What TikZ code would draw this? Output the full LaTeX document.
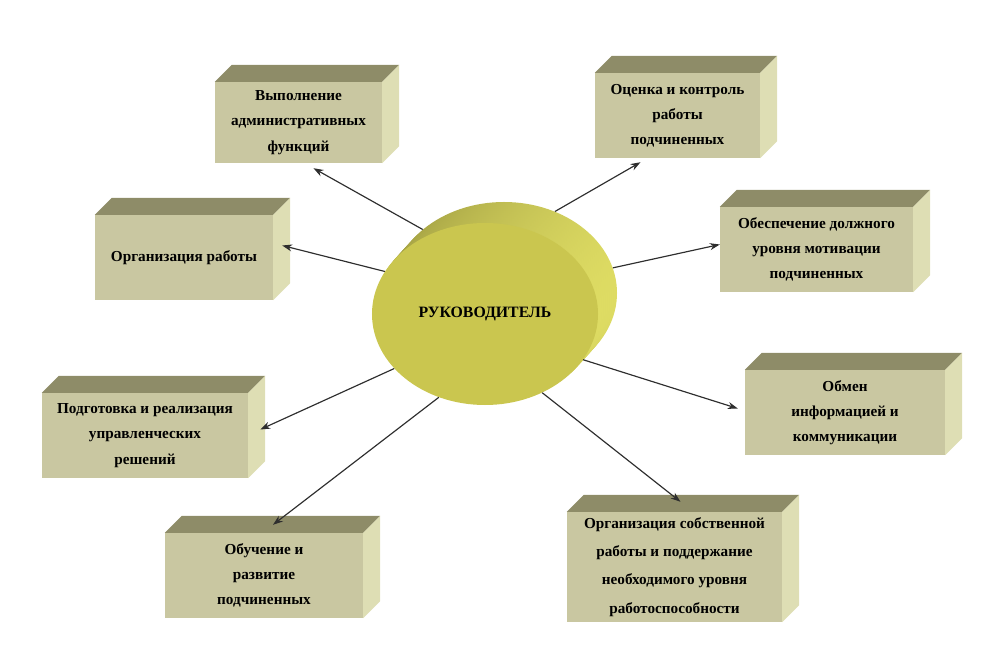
\documentclass[tikz,border=0pt]{standalone}
\usepackage{fontspec}
\setmainfont{Liberation Serif}
\usepackage{xcolor}
\usepackage{tikz}
\usetikzlibrary{arrows.meta,positioning,shapes.geometric,calc}
\definecolor{boxfront}{HTML}{C9C7A1}
\definecolor{boxtop}{HTML}{8E8C68}
\definecolor{boxside}{HTML}{DEDEB4}
\definecolor{diskfront}{HTML}{CAC64F}
\definecolor{rimdark}{HTML}{A29F42}
\definecolor{rimlight}{HTML}{DEDC63}
\definecolor{arrowgray}{HTML}{2E2E2E}

% top and right faces of a block
\newcommand\blockfaces[1]{%
  \fill[boxtop] (#1.north west) -- ++(17,-17) -- ($(#1.north east)+(17,-17)$) -- (#1.north east) -- cycle;
  \fill[boxside] (#1.north east) -- ++(17,-17) -- ($(#1.south east)+(17,-17)$) -- (#1.south east) -- cycle;}

\begin{document}
\begin{tikzpicture}[x=0.03cm,y=-0.03cm,
    block/.style={rectangle,fill=boxfront,align=center,inner sep=0pt,
      font=\fontsize{13}{21.5}\selectfont\bfseries},
    link/.style={-{Stealth[length=8.5pt,width=6pt]},arrowgray,line width=1pt},
    disk/.style={ellipse,minimum width=6.78cm,minimum height=5.46cm,inner sep=0pt}]
    \useasboundingbox (0,0) rectangle (1004,655);

    % boxes
    \node[block,minimum width=5.01cm,minimum height=2.43cm] (admin) at (298.5,122.5) {Выполнение\\административных\\функций};
    \node[block,minimum width=4.95cm,minimum height=2.55cm] (control) at (677.5,115.5) {Оценка и контроль\\работы\\подчиненных};
    \node[block,minimum width=5.34cm,minimum height=2.55cm] (organize) at (184,257.5) {Организация работы};
    \node[block,minimum width=5.79cm,minimum height=2.55cm] (motive) at (816.5,249.5) {Обеспечение должного\\уровня мотивации\\подчиненных};
    \node[block,minimum width=6.18cm,minimum height=2.55cm] (decide) at (145,435.5) {Подготовка и реализация\\управленческих\\решений};
    \node[block,minimum width=6.00cm,minimum height=2.55cm] (inform) at (845,412.5) {Обмен\\информацией и\\коммуникации};
    \node[block,minimum width=5.94cm,minimum height=2.55cm] (train) at (264,575.5) {Обучение и\\развитие\\подчиненных};
    \node[block,minimum width=6.45cm,minimum height=3.30cm,font=\fontsize{13}{24}\selectfont\bfseries] (self) at (674.5,567) {Организация собственной\\работы и поддержание\\необходимого уровня\\работоспособности};
    \blockfaces{admin}
    \blockfaces{control}
    \blockfaces{organize}
    \blockfaces{motive}
    \blockfaces{decide}
    \blockfaces{inform}
    \blockfaces{train}
    \blockfaces{self}

    % the disk
    \node[disk,left color=rimdark,right color=rimlight] (rim) at (504,293) {};
    \foreach \t in {0.1,0.2,...,0.9}
      \shade[left color=rimdark,right color=rimlight] ($(504,293)!\t!(485,314)$) ellipse [x radius=3.39cm,y radius=2.73cm];
    \node[disk,fill=diskfront,font=\fontsize{13.5}{16}\selectfont\bfseries] (head) at (485,314) {РУКОВОДИТЕЛЬ};

    % arrows
    \draw[link] (rim.142) -- ($(admin.south)+(15,5)$);
    \draw[link] (rim.58) -- ($(control.south)+(-37,4)$);
    \draw[link] (head.157) -- ($(organize.east)+(9,-12)$);
    \draw[link] (rim.13) -- ($(motive.west)+(0,-5)$);
    \draw[link] (head.211) -- ($(decide.east)+(12,-6)$);
    \draw[link] (head.335) -- ($(inform.west)+(-7,-4)$);
    \draw[link] (head.241) -- ($(train.north)+(9,-8)$);
    \draw[link] (head.306) -- ($(self.north)+(6,-10)$);
\end{tikzpicture}
\end{document}
